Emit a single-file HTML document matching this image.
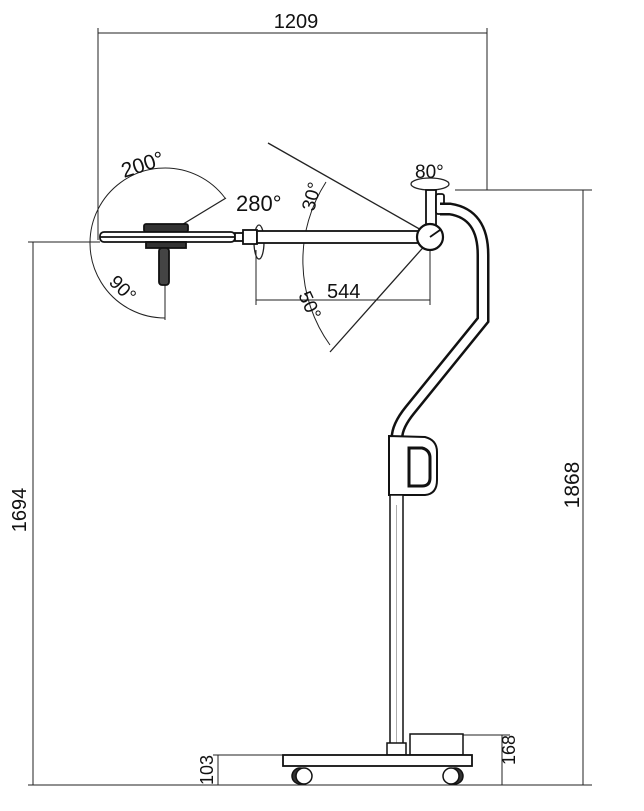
<!DOCTYPE html>
<html><head><style>body{margin:0;background:#fff}svg{display:block}text{font-family:"Liberation Sans",sans-serif;fill:#111}</style></head><body>
<svg width="644" height="811" viewBox="0 0 644 811" xmlns="http://www.w3.org/2000/svg">
<g stroke="#222" stroke-width="1" fill="none">
<line x1="98" y1="33" x2="487" y2="33"/>
<line x1="98" y1="28" x2="98" y2="240"/>
<line x1="487" y1="28" x2="487" y2="190"/>
<line x1="455" y1="190" x2="592" y2="190"/>
<line x1="583" y1="190" x2="583" y2="785"/>
<line x1="28" y1="242" x2="100" y2="242"/>
<line x1="33" y1="242" x2="33" y2="785"/>
<line x1="28" y1="785" x2="592" y2="785"/>
<line x1="213" y1="755" x2="283" y2="755"/>
<line x1="218" y1="755" x2="218" y2="785"/>
<line x1="463" y1="735" x2="510" y2="735"/>
<line x1="502" y1="735" x2="502" y2="785"/>
<line x1="256" y1="300" x2="430" y2="300"/>
<line x1="256" y1="250" x2="256" y2="305"/>
<line x1="430" y1="250" x2="430" y2="305"/>
<line x1="268" y1="143" x2="430" y2="235" stroke-width="1.3"/>
<line x1="330" y1="352" x2="428" y2="242" stroke-width="1.3"/>
<line x1="170" y1="232" x2="226" y2="198" stroke-width="1.3"/>
<line x1="165" y1="285" x2="165" y2="320"/>
<path d="M326,182 A145,145 0 0 0 330,345"/>
<path d="M225,198 A75,75 0 1 0 165,318"/>
<ellipse cx="430" cy="184" rx="19" ry="6" stroke-width="1.3"/>
<ellipse cx="259" cy="242" rx="5" ry="17" stroke-width="1.3"/>
</g>
<g stroke="#111" fill="#fff" stroke-width="1.8">
<rect x="144" y="224" width="44" height="8" rx="2" fill="#333"/>
<rect x="100" y="232" width="135" height="10" rx="4"/>
<line x1="100" y1="237" x2="235" y2="237"/>
<rect x="146" y="242" width="40" height="6" fill="#333"/>
<rect x="159" y="248" width="10" height="37" rx="3" fill="#444"/>
<rect x="235" y="233" width="8" height="8"/>
<rect x="243" y="230" width="14" height="14"/>
<rect x="257" y="231" width="165" height="12"/>
<rect x="426" y="190" width="10" height="36"/>
<rect x="436" y="194" width="8" height="20" rx="2"/>
<circle cx="430" cy="237" r="13" stroke-width="2.2"/>
<line x1="430" y1="237" x2="440" y2="230"/>
</g>
<path d="M440,209 L450,209 Q483,214 483,255 L483,320 L410,410 Q397,426 397,438" fill="none" stroke="#111" stroke-width="13"/>
<path d="M440,209 L450,209 Q483,214 483,255 L483,320 L410,410 Q397,426 397,438" fill="none" stroke="#fff" stroke-width="8"/>
<path d="M389,436 L425,437 Q437,440 437,452 L437,480 Q437,494 425,495 L389,495 Z" fill="#fff" stroke="#111" stroke-width="2"/>
<path d="M409,448 L422,448 Q430,450 430,458 L430,478 Q430,486 422,486 L409,486 Z" fill="#fff" stroke="#111" stroke-width="3"/>
<rect x="390" y="495" width="13" height="250" fill="#fff" stroke="#111" stroke-width="1.5"/>
<line x1="396.5" y1="505" x2="396.5" y2="743" stroke="#999" stroke-width="0.8"/>
<rect x="387" y="743" width="19" height="12" fill="#fff" stroke="#111" stroke-width="1.5"/>
<rect x="410" y="734" width="53" height="21" fill="#fff" stroke="#111" stroke-width="1.5"/>
<rect x="283" y="755" width="189" height="11" fill="#fff" stroke="#111" stroke-width="1.8"/>
<g fill="#fff" stroke="#111" stroke-width="1.5">
<circle cx="300" cy="776" r="8" fill="#333"/><circle cx="304" cy="776" r="8"/>
<circle cx="455" cy="776" r="8" fill="#333"/><circle cx="451" cy="776" r="8"/>
</g>
<text x="296" y="28" font-size="20" text-anchor="middle">1209</text>
<text x="124" y="178" font-size="21" transform="rotate(-18 124 178)">200°</text>
<text x="236" y="211" font-size="22">280°</text>
<text x="415" y="178" font-size="19">80°</text>
<text x="314" y="212" font-size="19" transform="rotate(-75 314 212)">30°</text>
<text x="298" y="295" font-size="19" transform="rotate(65 298 295)">50°</text>
<text x="327" y="298" font-size="20">544</text>
<text x="108" y="283" font-size="19" transform="rotate(45 108 283)">90°</text>
<text x="26" y="510" font-size="20" text-anchor="middle" transform="rotate(-90 26 510)">1694</text>
<text x="579" y="485" font-size="21" text-anchor="middle" transform="rotate(-90 579 485)">1868</text>
<text x="213" y="770" font-size="18" text-anchor="middle" transform="rotate(-90 213 770)">103</text>
<text x="515" y="750" font-size="18" text-anchor="middle" transform="rotate(-90 515 750)">168</text>
</svg>
</body></html>
